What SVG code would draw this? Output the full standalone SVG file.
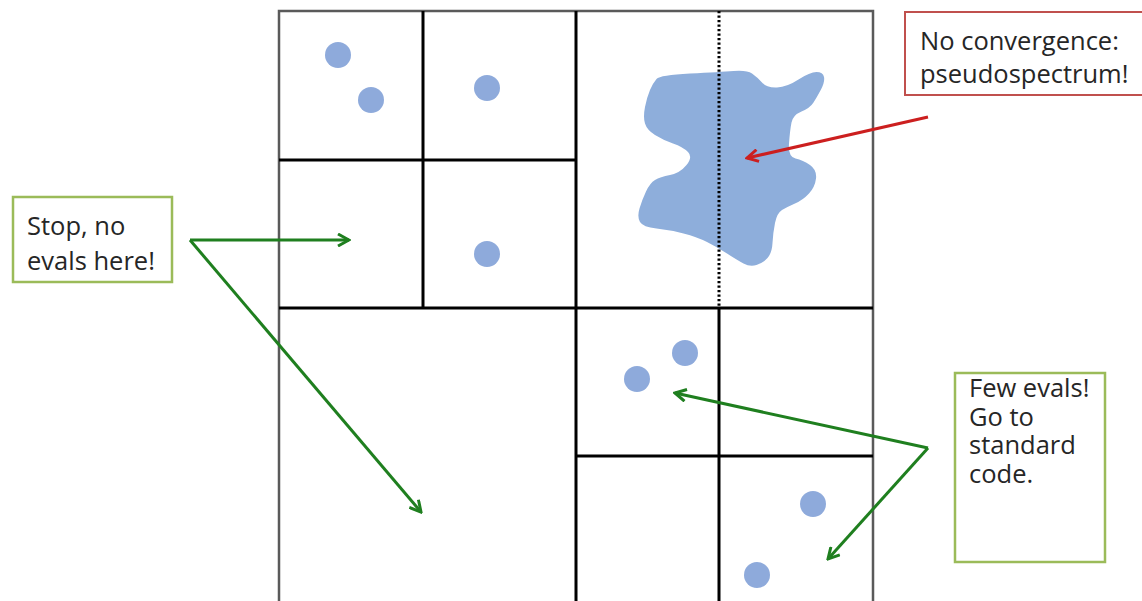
<svg xmlns="http://www.w3.org/2000/svg" width="1142" height="601" viewBox="0 0 1142 601">
  <defs>
    <style>
      .outer { stroke: #5a5a5a; stroke-width: 2.5; fill: none; }
      .inner { stroke: #000; stroke-width: 3; fill: none; }
      .dotted { stroke: #000; stroke-width: 3; stroke-dasharray: 2.2 2.3; fill: none; }
      .dot { fill: #8eaadb; }
      .blob { fill: #8eaedb; }
      .label { font-family: "Open Sans", Lato, "Liberation Sans", sans-serif; font-size: 25.5px; fill: #262626; }
      .gbox { fill: #fff; stroke: #9bbb59; stroke-width: 2.5; }
      .rbox { fill: #fff; stroke: #c0504d; stroke-width: 2; }
      .garrow { stroke: #1f7f1f; stroke-width: 3; fill: none; marker-end: url(#gArrow); }
      .rarrow { stroke: #cc1f1f; stroke-width: 3; fill: none; marker-end: url(#rArrow); }
    </style>
    <marker id="gArrow" markerUnits="userSpaceOnUse" viewBox="0 0 14 14" refX="12" refY="7" markerWidth="14" markerHeight="14" orient="auto">
      <path d="M1,1 L12,7 L1,13" fill="none" stroke="#1f7f1f" stroke-width="3" stroke-linejoin="miter"/>
    </marker>
    <marker id="rArrow" markerUnits="userSpaceOnUse" viewBox="0 0 14 14" refX="12" refY="7" markerWidth="14" markerHeight="14" orient="auto">
      <path d="M1,1 L12,7 L1,13" fill="none" stroke="#cc1f1f" stroke-width="3" stroke-linejoin="miter"/>
    </marker>
  </defs>
  <rect width="1142" height="601" fill="#fff"/>

  <g id="grid">
    <path class="outer" d="M279,601 L279,11 L873,11 L873,601"/>
    <line class="inner" x1="423" y1="11" x2="423" y2="308"/>
    <line class="inner" x1="576" y1="11" x2="576" y2="601"/>
    <line class="inner" x1="279" y1="160" x2="576" y2="160"/>
    <line class="inner" x1="279" y1="308" x2="873" y2="308"/>
    <line class="inner" x1="719" y1="308" x2="719" y2="601"/>
    <line class="inner" x1="576" y1="456" x2="873" y2="456"/>
  </g>

  <g id="pseudospectrum">
    <path class="blob" d="M690,73.5 Q720,72 733.5,71 Q747,70 752,73.5 Q757,77 762,82.5 Q767,88 777,87.5 Q787,87 798.5,79.5 Q810,72 816.5,72 Q823,72 824,77 Q825,82 821,89.5 Q817,97 813.5,102.5 Q810,108 801.5,111.5 Q793,115 791.5,122.5 Q790,130 789,143.5 Q788,157 795.5,158.5 Q803,160 810,165 Q817,170 816,178.5 Q815,187 809,193.5 Q803,200 795,203.5 Q787,207 782,210 Q777,213 775,223 Q773,233 772.5,243 Q772,253 767.5,258 Q763,263 756.5,265 Q750,267 743.5,263.5 Q737,260 727,253.5 Q717,247 707,242 Q697,237 683.5,233.5 Q670,230 656.5,228.5 Q643,227 640,222 Q637,217 639.5,208.5 Q642,200 646,191.5 Q650,183 655,180 Q660,177 670,175 Q680,173 686.5,165 Q693,157 688,152 Q683,147 673,143.5 Q663,140 655,135 Q647,130 645,123.5 Q643,117 645,107 Q647,97 650,90 Q653,83 656.5,79 Q660,75 690,73.5 Z"/>
    <line class="dotted" x1="719" y1="11" x2="719" y2="308"/>
  </g>

  <g id="eigenvalues">
    <circle class="dot" cx="338" cy="55" r="13"/>
    <circle class="dot" cx="371" cy="100" r="13"/>
    <circle class="dot" cx="487" cy="88" r="13"/>
    <circle class="dot" cx="487" cy="254" r="13"/>
    <circle class="dot" cx="637" cy="379" r="13"/>
    <circle class="dot" cx="685" cy="353" r="13"/>
    <circle class="dot" cx="813" cy="504" r="13"/>
    <circle class="dot" cx="757" cy="575" r="13"/>
  </g>

  <g id="connectors">
    <line class="garrow" x1="190" y1="240" x2="349" y2="240"/>
    <line class="garrow" x1="190" y1="240" x2="421" y2="512"/>
    <line class="garrow" x1="928" y1="448" x2="675" y2="393"/>
    <line class="garrow" x1="928" y1="448" x2="828" y2="559"/>
    <line class="rarrow" x1="928" y1="117" x2="747" y2="158"/>
  </g>

  <g id="note-stop">
    <rect class="gbox" x="13" y="197" width="159" height="85"/>
    <text class="label" x="27" y="235">Stop, no</text>
    <text class="label" x="27" y="270">evals here!</text>
  </g>

  <g id="note-pseudospectrum">
    <rect class="rbox" x="905" y="12" width="250" height="83"/>
    <text class="label" x="920" y="50">No convergence:</text>
    <text class="label" x="920" y="83">pseudospectrum!</text>
  </g>

  <g id="note-few">
    <rect class="gbox" x="955" y="373" width="150" height="189"/>
    <text class="label" x="969" y="397">Few evals!</text>
    <text class="label" x="969" y="425.5">Go to</text>
    <text class="label" x="969" y="454">standard</text>
    <text class="label" x="969" y="482.5">code.</text>
  </g>
</svg>
